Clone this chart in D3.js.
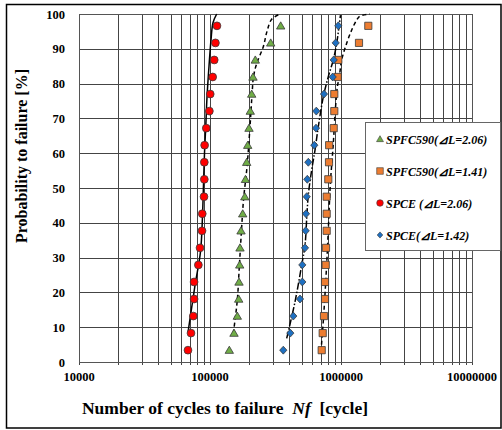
<!DOCTYPE html>
<html><head><meta charset="utf-8">
<script src="https://cdn.jsdelivr.net/npm/d3@7"></script>
<style>body{margin:0;background:#fff;} svg{display:block;}</style>
</head><body>
<svg id="c" width="502" height="430"></svg>
<script>
// ---- data ----
const probabilities = [3.4, 8.3, 13.2, 18.1, 23.0, 27.9, 32.8, 37.7, 42.6, 47.5, 52.5, 57.4, 62.3, 67.2, 72.1, 77.0, 81.9, 86.8, 91.7, 96.6];
const spceA = [67900, 71600, 74600, 75600, 75600, 81500, 83900, 86900, 87300, 90000, 90500, 90500, 91000, 93700, 98900, 100400, 104800, 107700, 110000, 113000];   // SPCE ⊿L=2.06
const spfcA = [140400, 152500, 161600, 165600, 166500, 168600, 169400, 172500, 177700, 184400, 186500, 190600, 194000, 198500, 203000, 208100, 212900, 221700, 290700, 346500]; // SPFC590 ⊿L=2.06
const spceB = [362600, 410200, 432400, 486500, 506600, 506600, 531200, 537800, 540700, 547400, 553100, 563000, 625500, 644500, 647900, 741700, 864400, 879800, 911200, 953700]; // SPCE ⊿L=1.42
const spfcB = [712400, 725000, 741700, 755000, 755000, 764200, 768300, 777700, 777700, 777700, 800000, 810000, 812000, 879800, 889000, 889000, 943600, 953700, 1372000, 1616000]; // SPFC590 ⊿L=1.41

// fitted curves (probability, cycles)
const fitSpceAProb = [8.5, 22, 31.7, 42, 51, 60, 68, 76, 85, 92.5, 97.5, 100];
const fitSpceAN    = [67940, 76830, 84640, 87670, 89200, 90780, 92890, 94840, 98260, 101760, 105400, 112500];
const fitSpfcAProb = [8.2, 17.8, 27.4, 37, 46.6, 56, 67.6, 78, 82, 85.8, 90.6, 95, 98.5, 100];
const fitSpfcAN    = [150600, 161600, 167400, 173400, 180200, 191600, 202000, 210300, 214800, 227300, 255200, 272300, 295800, 342200];
const fitSpceBProb = [6.8, 17.3, 27.9, 33.6, 41.3, 48, 55.2, 60.9, 67.6, 76.2, 82, 86.8, 91.6, 96.4, 99.7];
const fitSpceBN    = [385000, 445600, 501200, 531200, 547400, 563000, 597500, 633200, 671000, 732700, 800000, 873400, 927500, 965500, 991300];
const fitSpfcBProb = [5, 12.6, 22, 31.7, 41.3, 51, 62.8, 72.4, 79, 82, 86.8, 91.6, 95.4, 98.3, 99.4, 100];
const fitSpfcBN    = [709800, 735300, 761600, 786000, 807100, 828600, 873400, 905000, 937400, 970500, 1012000, 1105000, 1207000, 1318000, 1396000, 1665000];

const xTicks = [10000, 100000, 1000000, 10000000];
const yTicks = [0, 10, 20, 30, 40, 50, 60, 70, 80, 90, 100];
const legendLabels = ["SPFC590(⊿L=2.06)", "SPFC590(⊿L=1.41)", "SPCE (⊿L=2.06)", "SPCE(⊿L=1.42)"];

// ---- drawing ----
const svg = d3.select("#c");
const L = 79, R = 472, T = 14, B = 362;
const x = d3.scaleLog().domain([10000, 10000000]).range([L, R]);
const y = d3.scaleLinear().domain([0, 100]).range([B, T]);
const serif = "'Liberation Serif','Times New Roman',serif";

// outer frame
svg.append("rect").attr("x", 6.5).attr("y", 4.5).attr("width", 494.5).attr("height", 423.5)
  .attr("fill", "none").attr("stroke", "#000").attr("stroke-width", 1.5);

// grid
const g = svg.append("g");
const minor = [];
for (let d = 10000; d < 10000000; d *= 10) for (let k = 1; k <= 10; k++) minor.push(d * k);
const uniq = Array.from(new Set(minor));
g.selectAll("line.vx").data(uniq).join("line")
  .attr("x1", d => Math.round(x(d)) + 0.5).attr("x2", d => Math.round(x(d)) + 0.5)
  .attr("y1", T).attr("y2", B + 3)
  .attr("stroke", "#444").attr("stroke-width", 1);
g.selectAll("line.hy").data(yTicks).join("line")
  .attr("x1", L).attr("x2", R)
  .attr("y1", d => Math.round(y(d)) + 0.5).attr("y2", d => Math.round(y(d)) + 0.5)
  .attr("stroke", "#444").attr("stroke-width", 1);
svg.append("rect").attr("x", L + 0.5).attr("y", T + 0.5).attr("width", R - L).attr("height", B - T)
  .attr("fill", "none").attr("stroke", "#555").attr("stroke-width", 1);

// tick labels
svg.selectAll("text.yt").data(yTicks).join("text")
  .attr("x", 65).attr("y", d => y(d) + 4.5).attr("text-anchor", "end")
  .attr("font-family", serif).attr("font-weight", "bold").attr("font-size", 12.5).text(d => d);
svg.selectAll("text.xt").data(xTicks).join("text")
  .attr("x", d => x(d)).attr("y", 381).attr("text-anchor", "middle")
  .attr("font-family", serif).attr("font-weight", "bold").attr("font-size", 12.5).text(d => d);

// axis titles
svg.append("text").attr("transform", "translate(27,156) rotate(-90)").attr("text-anchor", "middle")
  .attr("font-family", serif).attr("font-weight", "bold").attr("font-size", 16)
  .text("Probability to failure [%]");
const xt = svg.append("text").attr("x", 225).attr("y", 414).attr("text-anchor", "middle")
  .attr("font-family", serif).attr("font-weight", "bold").attr("font-size", 17.5).attr("xml:space", "preserve");
xt.append("tspan").text("Number of cycles to failure  ");
xt.append("tspan").attr("font-style", "italic").text("Nf");
xt.append("tspan").text("  [cycle]");

// fit lines
const line = d3.line().x(d => x(d[1])).y(d => y(d[0])).curve(d3.curveCatmullRom.alpha(0.5));
function fit(ps, ns, dash) {
  svg.append("path").datum(ps.map((p, i) => [p, ns[i]])).attr("d", line)
    .attr("fill", "none").attr("stroke", "#000").attr("stroke-width", 1.5)
    .attr("stroke-dasharray", dash);
}
fit(fitSpceAProb, fitSpceAN, null);
fit(fitSpfcAProb, fitSpfcAN, "4,3");
fit(fitSpceBProb, fitSpceBN, "7,2,1.5,2");
fit(fitSpfcBProb, fitSpfcBN, "4,3");

// markers
const shapes = {
  circle: (s) => d3.symbol(d3.symbolCircle, Math.PI * s * s)(),
  tri: (s) => `M0,${-s}L${s * 1.05},${s * 0.8}L${-s * 1.05},${s * 0.8}Z`,
  square: (s) => `M${-s},${-s}H${s}V${s}H${-s}Z`,
  diamond: (s) => `M0,${-s * 1.1}L${s},0L0,${s * 1.1}L${-s},0Z`
};
function markers(vals, shape, size, fill) {
  svg.append("g").selectAll("path").data(vals).join("path")
    .attr("transform", (d, i) => `translate(${x(d)},${y(probabilities[i])})`)
    .attr("d", shapes[shape](size)).attr("fill", fill)
    .attr("stroke", "#3a3a3a").attr("stroke-width", 0.8);
}
markers(spfcA, "tri", 4, "#70AD47");
markers(spfcB, "square", 3.6, "#ED7D31");
markers(spceA, "circle", 3.9, "#FF0000");
markers(spceB, "diamond", 3.6, "#1F70C1");

// legend
svg.append("rect").attr("x", 365.5).attr("y", 122.5).attr("width", 135).attr("height", 128)
  .attr("fill", "#fff").attr("stroke", "#666").attr("stroke-width", 1);
const legShapes = [["tri", 3.3, "#70AD47"], ["square", 3.3, "#ED7D31"], ["circle", 3.3, "#FF0000"], ["diamond", 2.8, "#1F70C1"]];
const legY = [140, 172, 204, 236];
legendLabels.forEach((t, i) => {
  const [sh, sz, col] = legShapes[i];
  svg.append("path").attr("transform", `translate(380,${legY[i] - 1})`).attr("d", shapes[sh](sz))
    .attr("fill", col).attr("stroke", "#3a3a3a").attr("stroke-width", 0.6);
  svg.append("text").attr("x", 386).attr("y", legY[i] + 4)
    .attr("font-family", serif).attr("font-weight", "bold").attr("font-style", "italic")
    .attr("font-size", 12).attr("xml:space", "preserve").text(t);
});
</script>
</body></html>
